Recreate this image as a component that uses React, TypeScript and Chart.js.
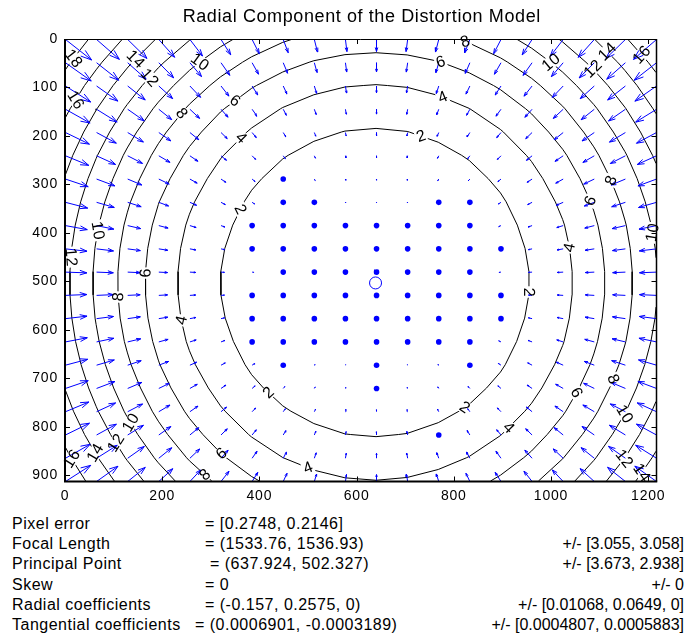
import React, { useEffect, useRef } from "react";
import { Chart, registerables } from "chart.js";
Chart.register(...registerables);

// ---------------- data ----------------
const TITLE = "Radial Component of the Distortion Model";

// sampling grid (image pixels, 1280x960 image, nx/20 and ny/20 spacing)
const GRID_X = [0, 64, 128, 192, 256, 320, 384, 448, 512, 576, 640, 704, 768, 832, 896, 960, 1024, 1088, 1152, 1216];
const GRID_Y = [0, 48, 96, 144, 192, 240, 288, 336, 384, 432, 480, 528, 576, 624, 672, 720, 768, 816, 864, 912];

// calibration results printed under the plot (model of the vector field)
const FOCAL_LENGTH = [1533.76, 1536.93];
const PRINCIPAL_POINT = [637.924, 502.327];
const RADIAL_COEFFS = [-0.157, 0.2575, 0];
const IMAGE_CENTER = [640.5, 480.5];

const CONTOUR_LEVELS = [2, 4, 6, 8, 10, 12, 14, 16, 18];
const X_TICKS = [0, 200, 400, 600, 800, 1000, 1200];
const Y_TICKS = [0, 100, 200, 300, 400, 500, 600, 700, 800, 900];
const X_LIMIT = 1217;
const Y_LIMIT = 913;

// contour labels: value and approximate location (data units)
const LABEL_VALUES = [18, 14, 12, 10, 16, 8, 6, 4, 2, 10, 8, 6, 4, 2, 10, 12, 14, 16, 8, 6, 10, 12, 6, 8, 4, 2, 10, 12, 14, 16, 6, 8, 4, 2, 2, 4, 6, 8, 10, 12, 14, 4];
const LABEL_X = [21, 144, 175, 274, 16, 237, 346, 360, 356, 62, 823, 772, 776, 731, 1004, 1084, 1115, 1193, 1126, 1086, 1208, 14, 161, 113, 241, 418, 138, 109, 66, 21, 323, 284, 500, 947, 819, 912, 1049, 1121, 1148, 1148, 1187, 1035];
const LABEL_Y = [43, 41, 81, 43, 122, 151, 122, 202, 349, 394, 6, 50, 122, 204, 43, 64, 27, 27, 291, 332, 400, 450, 483, 532, 580, 730, 790, 831, 852, 862, 854, 904, 885, 522, 755, 801, 728, 699, 772, 864, 895, 431];

// grid cells whose tiny vectors render as round dots (column, row indices)
const DOT_COLS = [7, 7, 8, 12, 13, 6, 7, 8, 9, 10, 11, 12, 13, 6, 7, 8, 9, 10, 11, 12, 13, 14, 7, 8, 9, 10, 11, 12, 13, 6, 7, 8, 9, 10, 11, 12, 13, 14, 6, 7, 8, 9, 10, 11, 12, 13, 14, 6, 7, 8, 9, 10, 11, 12, 13, 7, 10, 13, 10, 12];
const DOT_ROWS = [6, 7, 7, 7, 7, 8, 8, 8, 8, 8, 8, 8, 8, 9, 9, 9, 9, 9, 9, 9, 9, 9, 10, 10, 10, 10, 10, 10, 10, 11, 11, 11, 11, 11, 11, 11, 11, 11, 12, 12, 12, 12, 12, 12, 12, 12, 12, 13, 13, 13, 13, 13, 13, 13, 13, 14, 14, 14, 15, 17];

const INFO_NAMES = ["Pixel error", "Focal Length", "Principal Point", "Skew", "Radial coefficients", "Tangential coefficients"];
const INFO_VALUES = ["= [0.2748, 0.2146]", "= (1533.76, 1536.93)", "= (637.924, 502.327)", "= 0", "= (-0.157, 0.2575, 0)", "= (0.0006901, -0.0003189)"];
const INFO_ERRORS = ["", "+/- [3.055, 3.058]", "+/- [3.673, 2.938]", "+/- 0", "+/- [0.01068, 0.0649, 0]", "+/- [0.0004807, 0.0005883]"];

// ---------------- layout / style ----------------
const W = 686;
const CANVAS_H = 500;
const INFO_VALUE_LEFT = [205, 205, 210, 205, 205, 195];
const INFO_TOP0 = 514;
const INFO_STEP = 20.2;
const FONT = '"Liberation Sans", Arial, Helvetica, sans-serif';
const BLUE = "#0000ff";
const LABEL_FONT_PX = 16;

// ---------------- derived geometry ----------------
function radialShift(px: number, py: number) {
  const xn = (px - PRINCIPAL_POINT[0]) / FOCAL_LENGTH[0];
  const yn = (py - PRINCIPAL_POINT[1]) / FOCAL_LENGTH[1];
  const r2 = xn * xn + yn * yn;
  const f = RADIAL_COEFFS[0] * r2 + RADIAL_COEFFS[1] * r2 * r2 + RADIAL_COEFFS[2] * r2 * r2 * r2;
  return [FOCAL_LENGTH[0] * xn * f, FOCAL_LENGTH[1] * yn * f];
}

const SHIFT = GRID_Y.map((py) => GRID_X.map((px) => radialShift(px, py)));
const MAG = SHIFT.map((row) => row.map(([u, v]) => Math.hypot(u, v)));

function buildArrows() {
  const n = Math.sqrt(GRID_X.length * GRID_Y.length);
  const delx = (GRID_X[GRID_X.length - 1] - GRID_X[0]) / n;
  const dely = (GRID_Y[GRID_Y.length - 1] - GRID_Y[0]) / n;
  const del = delx * delx + dely * dely;
  let maxlen = 0;
  SHIFT.forEach((row) => row.forEach(([u, v]) => { maxlen = Math.max(maxlen, Math.sqrt((u * u + v * v) / del)); }));
  const s = 0.9 / maxlen;
  const dots = new Set(DOT_COLS.map((c, i) => c + "," + DOT_ROWS[i]));
  const arrows: any[] = [];
  const dotPts: any[] = [];
  const a = 0.33, b = 0.33;
  GRID_Y.forEach((gy, j) => {
    GRID_X.forEach((gx, i) => {
      const x0 = gx + 1, y0 = gy + 1;
      if (dots.has(i + "," + j)) { dotPts.push({ x: x0, y: y0 }); return; }
      const u = SHIFT[j][i][0] * s, v = SHIFT[j][i][1] * s;
      const tx = x0 + u, ty = y0 + v;
      arrows.push({ x: x0, y: y0 }, { x: tx, y: ty }, { x: tx, y: NaN });
      arrows.push({ x: tx - a * (u + b * v), y: ty - a * (v - b * u) }, { x: tx, y: ty }, { x: tx - a * (u - b * v), y: ty - a * (v + b * u) }, { x: tx, y: NaN });
    });
  });
  return { arrows, dotPts };
}

function contourLines(level: number) {
  const segs: number[][][] = [];
  for (let j = 0; j < GRID_Y.length - 1; j++) {
    for (let i = 0; i < GRID_X.length - 1; i++) {
      const c = [
        [GRID_X[i], GRID_Y[j], MAG[j][i]],
        [GRID_X[i + 1], GRID_Y[j], MAG[j][i + 1]],
        [GRID_X[i + 1], GRID_Y[j + 1], MAG[j + 1][i + 1]],
        [GRID_X[i], GRID_Y[j + 1], MAG[j + 1][i]],
      ];
      const pts: number[][] = [];
      for (let e = 0; e < 4; e++) {
        const A = c[e], B = c[(e + 1) % 4];
        if ((A[2] - level) * (B[2] - level) < 0) {
          const t = (level - A[2]) / (B[2] - A[2]);
          pts.push([A[0] + t * (B[0] - A[0]), A[1] + t * (B[1] - A[1])]);
        }
      }
      if (pts.length === 2) segs.push([pts[0], pts[1]]);
      else if (pts.length === 4) { segs.push([pts[0], pts[1]]); segs.push([pts[2], pts[3]]); }
    }
  }
  const key = (p: number[]) => p[0].toFixed(3) + "," + p[1].toFixed(3);
  const map = new Map<string, number[]>();
  segs.forEach((sg, idx) => sg.forEach((p) => {
    const k = key(p);
    if (!map.has(k)) map.set(k, []);
    map.get(k)!.push(idx);
  }));
  const used = segs.map(() => false);
  const lines: number[][][] = [];
  for (let s0 = 0; s0 < segs.length; s0++) {
    if (used[s0]) continue;
    used[s0] = true;
    const line = [segs[s0][0], segs[s0][1]];
    for (let dir = 0; dir < 2; dir++) {
      for (;;) {
        const end = line[line.length - 1];
        const cand = (map.get(key(end)) || []).find((idx) => !used[idx]);
        if (cand === undefined) break;
        used[cand] = true;
        const sg = segs[cand];
        line.push(key(sg[0]) === key(end) ? sg[1] : sg[0]);
      }
      line.reverse();
    }
    lines.push(line);
  }
  return lines;
}

const CONTOURS = new Map<number, number[][][]>();
CONTOUR_LEVELS.forEach((lv) => CONTOURS.set(lv, contourLines(lv)));

function contourData() {
  const out: any[] = [];
  CONTOUR_LEVELS.forEach((lv) => {
    CONTOURS.get(lv)!.forEach((line) => {
      line.forEach((p) => out.push({ x: p[0], y: p[1] }));
      const last = line[line.length - 1];
      out.push({ x: last[0], y: NaN });
    });
  });
  return out;
}

function placeLabels(chart: any) {
  const xs = chart.scales.x, ys = chart.scales.y;
  return LABEL_VALUES.map((val, k) => {
    const tx = xs.getPixelForValue(LABEL_X[k]);
    const ty = ys.getPixelForValue(LABEL_Y[k]);
    let best = { d: Infinity, x: tx, y: ty, ang: 0 };
    (CONTOURS.get(val) || []).forEach((line) => {
      for (let q = 0; q < line.length - 1; q++) {
        const ax = xs.getPixelForValue(line[q][0]), ay = ys.getPixelForValue(line[q][1]);
        const bx = xs.getPixelForValue(line[q + 1][0]), by = ys.getPixelForValue(line[q + 1][1]);
        const dx = bx - ax, dy = by - ay;
        const L2 = dx * dx + dy * dy || 1e-9;
        let t = ((tx - ax) * dx + (ty - ay) * dy) / L2;
        t = Math.max(0, Math.min(1, t));
        const px = ax + t * dx, py = ay + t * dy;
        const d = Math.hypot(px - tx, py - ty);
        if (d < best.d) best = { d, x: px, y: py, ang: Math.atan2(dy, dx) };
      }
    });
    let ang = best.ang;
    while (ang > Math.PI / 2) ang -= Math.PI;
    while (ang <= -Math.PI / 2) ang += Math.PI;
    return { text: String(val), x: best.x, y: best.y, rot: -ang };
  });
}

const decorPlugin = {
  id: "decor",
  beforeDraw(chart: any) {
    chart.ctx.letterSpacing = "0.8px";
  },
  afterDatasetDraw(chart: any, args: any) {
    if (args.index !== 0) return;
    const ctx = chart.ctx;
    ctx.save();
    ctx.font = LABEL_FONT_PX + "px " + FONT;
    ctx.letterSpacing = "0.5px";
    ctx.fillStyle = "#ffffff";
    placeLabels(chart).forEach((l) => {
      const w = ctx.measureText(l.text).width + 2;
      ctx.save();
      ctx.translate(l.x, l.y);
      ctx.rotate(l.rot);
      ctx.fillRect(-w / 2, -6.5, w, 13);
      ctx.restore();
    });
    ctx.restore();
  },
  afterDatasetsDraw(chart: any) {
    const ctx = chart.ctx;
    const { left, right, top, bottom } = chart.chartArea;
    const xs = chart.scales.x, ys = chart.scales.y;
    ctx.save();
    // contour labels
    ctx.font = LABEL_FONT_PX + "px " + FONT;
    ctx.letterSpacing = "0.5px";
    ctx.fillStyle = "#000";
    ctx.textAlign = "center";
    ctx.textBaseline = "middle";
    placeLabels(chart).forEach((l) => {
      ctx.save();
      ctx.translate(l.x, l.y);
      ctx.rotate(l.rot);
      ctx.fillText(l.text, 0.3, 0.5);
      ctx.restore();
    });
    // inward ticks
    ctx.strokeStyle = "#000";
    ctx.lineWidth = 1;
    ctx.beginPath();
    X_TICKS.forEach((v) => {
      const x = Math.round(xs.getPixelForValue(v)) + 0.5;
      ctx.moveTo(x, bottom); ctx.lineTo(x, bottom - 5);
      ctx.moveTo(x, top); ctx.lineTo(x, top + 5);
    });
    Y_TICKS.forEach((v) => {
      const y = Math.round(ys.getPixelForValue(v)) + 0.5;
      ctx.moveTo(left, y); ctx.lineTo(left + 5, y);
      ctx.moveTo(right, y); ctx.lineTo(right - 5, y);
    });
    ctx.stroke();
    // box
    ctx.lineWidth = 1;
    ctx.beginPath();
    ctx.moveTo(left, top + 0.5); ctx.lineTo(right, top + 0.5);
    ctx.stroke();
    ctx.lineWidth = 1.5;
    ctx.beginPath();
    ctx.moveTo(right, top); ctx.lineTo(right, bottom);
    ctx.stroke();
    ctx.lineWidth = 2;
    ctx.beginPath();
    ctx.moveTo(left, top); ctx.lineTo(left, bottom); ctx.lineTo(right + 0.75, bottom);
    ctx.stroke();
    ctx.restore();
  },
  afterDraw(chart: any) {
    const ctx = chart.ctx;
    const { left, right } = chart.chartArea;
    ctx.save();
    ctx.font = "18px " + FONT;
    ctx.letterSpacing = "0.6px";
    ctx.fillStyle = "#000";
    ctx.textAlign = "center";
    ctx.textBaseline = "alphabetic";
    ctx.fillText(TITLE, (left + right) / 2 + 1, 22);
    ctx.restore();
    ctx.letterSpacing = "0px";
  },
};

export default function App() {
  const ref = useRef<HTMLCanvasElement>(null);
  useEffect(() => {
    const { arrows, dotPts } = buildArrows();
    const tickFont = { family: FONT, size: 14 };
    const chart = new Chart(ref.current as HTMLCanvasElement, {
      type: "line",
      data: {
        datasets: [
          { type: "line", data: contourData(), borderColor: "#000", borderWidth: 1, pointRadius: 0, spanGaps: false, tension: 0, order: 5 } as any,
          { type: "line", data: arrows, borderColor: BLUE, borderWidth: 1, pointRadius: 0, spanGaps: false, tension: 0, order: 4 } as any,
          { type: "scatter", data: dotPts, pointRadius: 2.8, backgroundColor: BLUE, borderWidth: 0, order: 3 } as any,
          { type: "scatter", data: [{ x: PRINCIPAL_POINT[0] + 1, y: PRINCIPAL_POINT[1] + 1 }], pointStyle: "circle", pointRadius: 6, backgroundColor: "rgba(0,0,0,0)", borderColor: BLUE, borderWidth: 1, order: 2 } as any,
          { type: "scatter", data: [{ x: IMAGE_CENTER[0], y: IMAGE_CENTER[1] }], pointStyle: "crossRot", pointRadius: 3, borderColor: BLUE, borderWidth: 1.2, order: 1 } as any,
        ],
      },
      options: {
        animation: false,
        responsive: false,
        devicePixelRatio: 1,
        events: [],
        layout: { padding: { left: 0, right: 29.5, top: 39, bottom: 0 } },
        plugins: { legend: { display: false }, tooltip: { enabled: false }, title: { display: false } },
        scales: {
          x: {
            type: "linear", position: "bottom", min: 0, max: X_LIMIT,
            afterFit: (s: any) => { s.height = 18.5; },
            afterBuildTicks: (s: any) => { s.ticks = X_TICKS.map((v) => ({ value: v })); },
            grid: { display: false, drawTicks: false }, border: { display: false },
            ticks: { padding: 6, color: "#000", font: tickFont, autoSkip: false, maxRotation: 0, callback: (v: any) => String(v) },
          },
          y: {
            type: "linear", reverse: true, min: 0, max: Y_LIMIT,
            afterFit: (s: any) => { s.width = 65; },
            afterBuildTicks: (s: any) => { s.ticks = Y_TICKS.map((v) => ({ value: v })); },
            grid: { display: false, drawTicks: false }, border: { display: false },
            ticks: { padding: 7, color: "#000", font: tickFont, autoSkip: false, callback: (v: any) => String(v) },
          },
        },
      } as any,
      plugins: [decorPlugin as any],
    });
    return () => chart.destroy();
  }, []);

  const textStyle: React.CSSProperties = {
    position: "absolute", fontFamily: FONT, fontSize: 16, lineHeight: "20px",
    letterSpacing: "0.5px", whiteSpace: "pre", color: "#000",
  };

  return (
    <div style={{ position: "absolute", left: 0, top: 0, width: W, height: 635, background: "#fff", overflow: "hidden" }}>
      <canvas ref={ref} width={W} height={CANVAS_H} style={{ position: "absolute", left: 0, top: 0 }} />
      {INFO_NAMES.map((name, i) => (
        <React.Fragment key={i}>
          <div style={{ ...textStyle, left: 12, top: INFO_TOP0 + i * INFO_STEP }}>{name}</div>
          <div style={{ ...textStyle, left: INFO_VALUE_LEFT[i], top: INFO_TOP0 + i * INFO_STEP }}>{INFO_VALUES[i]}</div>
          {INFO_ERRORS[i] ? (
            <div style={{ ...textStyle, right: W - 684, top: INFO_TOP0 + i * INFO_STEP, letterSpacing: "0px" }}>{INFO_ERRORS[i]}</div>
          ) : null}
        </React.Fragment>
      ))}
    </div>
  );
}
